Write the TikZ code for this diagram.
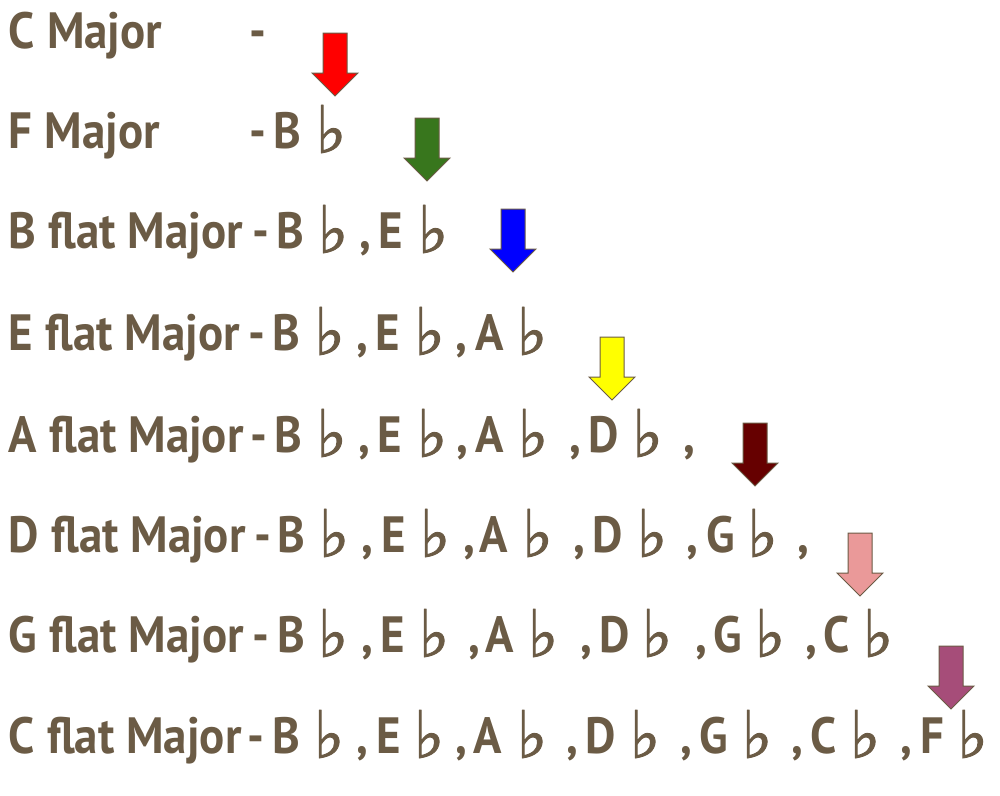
\documentclass[tikz,border=0pt]{standalone}
\usepackage{fontspec}
\usepackage{graphicx}
\newfontfamily\labfont{PT Sans}[FakeStretch=0.92]
\newfontfamily\flatfont{DejaVu Sans}[FakeBold=1.5]
\definecolor{txt}{HTML}{6B5B45}
\definecolor{outl}{HTML}{6B5B45}
\definecolor{aRed}{HTML}{FF0000}
\definecolor{aGreen}{HTML}{38761D}
\definecolor{aBlue}{HTML}{0000FF}
\definecolor{aYellow}{HTML}{FFFF00}
\definecolor{aDarkRed}{HTML}{660000}
\definecolor{aPink}{HTML}{EA9999}
\definecolor{aPurple}{HTML}{A64D79}
\newcommand\fl{\raisebox{-5pt}{\resizebox{31pt}{48pt}{\flatfont\fontsize{40}{40}\selectfont\raisebox{\depth}{♭}}}}
\newcommand\cm{,}
\tikzset{
  tok/.style={inner sep=0pt, outer sep=0pt, text=txt, anchor=base,
    font=\labfont\bfseries\fontsize{51}{51}\selectfont},
  lab/.style={tok, anchor=base west},
  arrowline/.style={draw=outl, line width=1pt, line join=miter},
  blockarrow/.pic={
    \path[arrowline, fill=#1] (-12,0) -- (12,0) -- (12,40) -- (23,40) -- (0,63) -- (-23,40) -- (-12,40) -- cycle;
  }
}
\begin{document}
\begin{tikzpicture}[x=1pt, y=-1pt]
\useasboundingbox (0,0) rectangle (1000,795);
% row 1
\node[lab] (l1) at (9,48) {C Major};
\node[tok] (r1-1) at (258,48) {-};
% row 2
\node[lab] (l2) at (9,148) {F Major};
\foreach \x/\t [count=\k] in {258/-, 287.5/B, 331/\fl}
  {\node[tok] (r2-\k) at (\x,148) {\t};}
% row 3
\node[lab] (l3) at (9,248) {B flat Major};
\foreach \x/\t [count=\k] in {261/-, 290/B, 333/\fl, 365/\cm, 391/E, 433/\fl}
  {\node[tok] (r3-\k) at (\x,248) {\t};}
% row 4
\node[lab] (l4) at (9,350) {E flat Major};
\foreach \x/\t [count=\k] in {256.5/-, 286.5/B, 329.5/\fl, 362/\cm, 388/E, 429.5/\fl, 461/\cm, 490/A, 532/\fl}
  {\node[tok] (r4-\k) at (\x,350) {\t};}
% row 5
\node[lab] (l5) at (9,452) {A flat Major};
\foreach \x/\t [count=\k] in {259/-, 288.5/B, 331.5/\fl, 364/\cm, 390/E, 432/\fl, 462/\cm, 490/A, 533/\fl, 575/\cm, 604/D, 647.5/\fl, 689/\cm}
  {\node[tok] (r5-\k) at (\x,452) {\t};}
% row 6
\node[lab] (l6) at (9,552) {D flat Major};
\foreach \x/\t [count=\k] in {262.5/-, 291/B, 334/\fl, 367/\cm, 394/E, 435/\fl, 469/\cm, 494/A, 537.5/\fl, 579/\cm, 607.5/D, 652/\fl, 692/\cm, 720.5/G, 762.5/\fl, 803/\cm}
  {\node[tok] (r6-\k) at (\x,552) {\t};}
% row 7
\node[lab] (l7) at (9,652) {G flat Major};
\foreach \x/\t [count=\k] in {261/-, 291/B, 333/\fl, 367/\cm, 392.5/E, 434/\fl, 474/\cm, 500/A, 543/\fl, 586/\cm, 614.5/D, 657/\fl, 701/\cm, 727.5/G, 770/\fl, 811/\cm, 836.5/C, 878/\fl}
  {\node[tok] (r7-\k) at (\x,652) {\t};}
% row 8
\node[lab] (l8) at (9,753) {C flat Major};
\foreach \x/\t [count=\k] in {256/-, 286.5/B, 329/\fl, 362/\cm, 389/E, 429/\fl, 461/\cm, 488/A, 532/\fl, 572/\cm, 600.5/D, 645/\fl, 686/\cm, 713.5/G, 757/\fl, 797/\cm, 823.5/C, 865/\fl, 906/\cm, 932.5/F, 972.5/\fl}
  {\node[tok] (r8-\k) at (\x,753) {\t};}
% arrows
\pic (a1) at (335,33) {blockarrow=aRed};
\pic (a2) at (427,118) {blockarrow=aGreen};
\pic (a3) at (513,209) {blockarrow=aBlue};
\pic (a4) at (612,337) {blockarrow=aYellow};
\pic (a5) at (755,423) {blockarrow=aDarkRed};
\pic (a6) at (860,533) {blockarrow=aPink};
\pic (a7) at (951,646) {blockarrow=aPurple};
\end{tikzpicture}
\end{document}
